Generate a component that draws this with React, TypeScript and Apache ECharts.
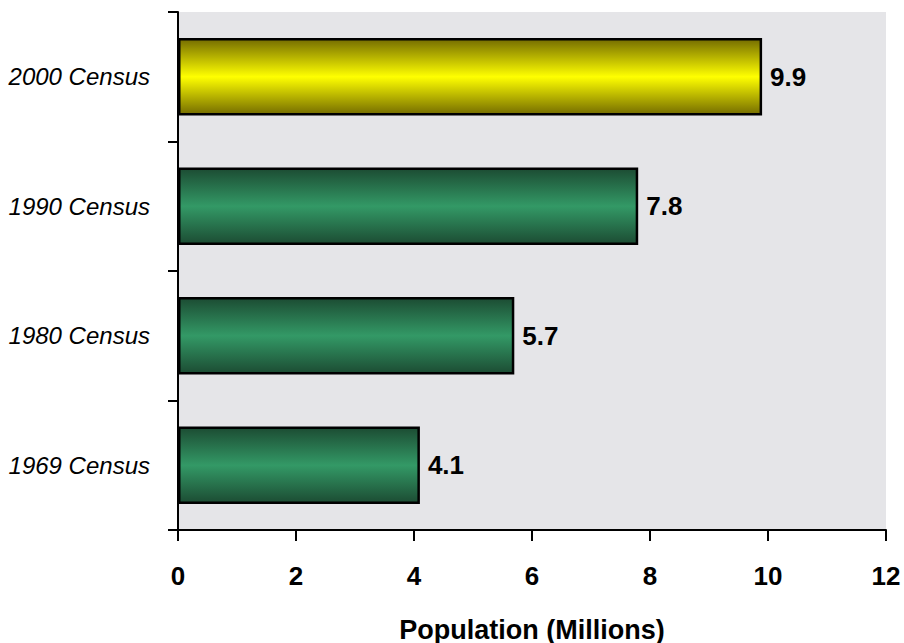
import React, { useEffect, useRef } from "react";
import * as echarts from "echarts";

const categories = ["1969 Census", "1980 Census", "1990 Census", "2000 Census"];
const values = [4.1, 5.7, 7.8, 9.9];
const highlight = [false, false, false, true];
const xTicks = { min: 0, max: 12, interval: 2 };
const axisTitle = "Population (Millions)";

const green = {
  type: "linear", x: 0, y: 0, x2: 0, y2: 1,
  colorStops: [
    { offset: 0, color: "#1c4c33" },
    { offset: 0.5, color: "#339966" },
    { offset: 1, color: "#1c4c33" },
  ],
};
const yellow = {
  type: "linear", x: 0, y: 0, x2: 0, y2: 1,
  colorStops: [
    { offset: 0, color: "#756d00" },
    { offset: 0.5, color: "#ffff00" },
    { offset: 1, color: "#756d00" },
  ],
};

const FONT = "'Liberation Sans', Arial, sans-serif";

export default function App() {
  const ref = useRef<HTMLDivElement>(null);
  useEffect(() => {
    if (!ref.current) return;
    const chart = echarts.init(ref.current, null, { renderer: "svg" });
    chart.setOption({
      animation: false,
      backgroundColor: "#ffffff",
      grid: {
        left: 178, right: 18, top: 12, bottom: 113,
        outerBoundsMode: "none",
        containLabel: false,
        show: true, backgroundColor: "#e5e5e8", borderWidth: 0,
      },
      xAxis: {
        type: "value",
        min: xTicks.min, max: xTicks.max, interval: xTicks.interval,
        splitLine: { show: false },
        axisLine: { show: true, lineStyle: { color: "#000", width: 2 } },
        axisTick: { show: true, inside: false, length: 11, lineStyle: { color: "#000", width: 2 } },
        axisLabel: {
          color: "#000", fontFamily: FONT, fontWeight: "bold",
          fontSize: 26, margin: 33,
        },
        name: axisTitle,
        nameLocation: "middle",
        nameGap: 86,
        nameTextStyle: {
          color: "#000", fontFamily: FONT, fontWeight: "bold", fontSize: 27,
        },
      },
      yAxis: {
        type: "category",
        data: categories,
        axisLine: { show: true, lineStyle: { color: "#000", width: 2 } },
        axisTick: { show: true, inside: false, length: 10, lineStyle: { color: "#000", width: 2 } },
        axisLabel: {
          color: "#000", fontFamily: FONT, fontStyle: "italic",
          fontSize: 24, margin: 28,
        },
        splitLine: { show: false },
      },
      series: [
        {
          type: "bar",
          barCategoryGap: "40%",
          data: values.map((v, i) => ({
            value: v,
            itemStyle: { color: highlight[i] ? yellow : green },
          })),
          itemStyle: { borderColor: "#000", borderWidth: 2.5 },
          label: {
            show: true, position: "right", distance: 8,
            color: "#000", fontFamily: FONT, fontWeight: "bold",
            fontSize: 26,
            formatter: (p: any) => p.value.toFixed(1),
          },
        },
      ],
    });
    return () => chart.dispose();
  }, []);
  return (
    <div
      ref={ref}
      style={{ position: "absolute", left: 0, top: 0, width: 904, height: 643 }}
    />
  );
}
